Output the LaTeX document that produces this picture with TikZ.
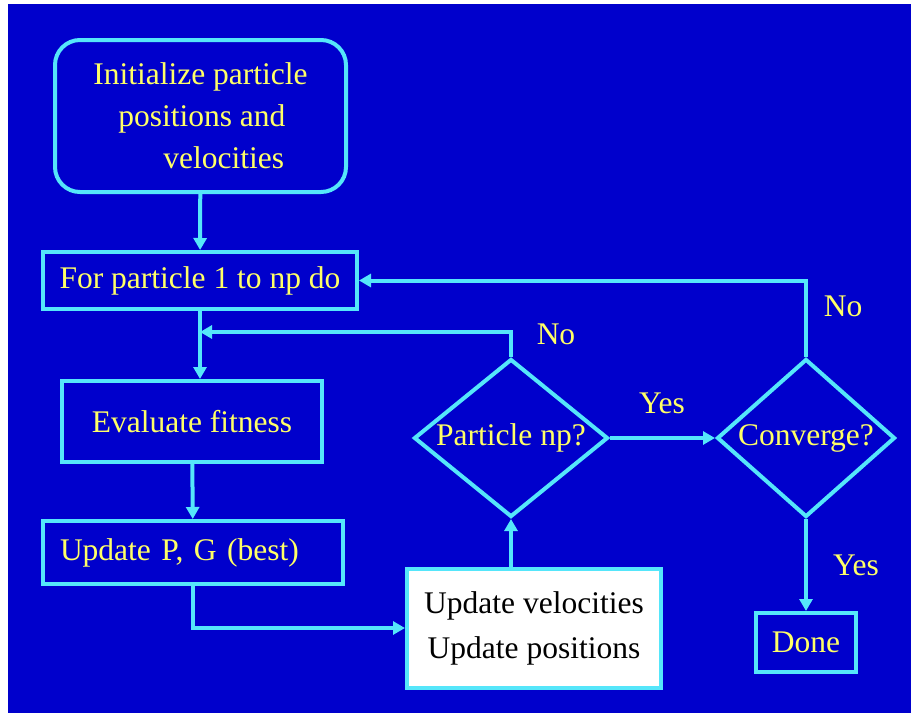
\documentclass[tikz,border=0pt]{standalone}
\usepackage{fontspec}
\setmainfont{Liberation Serif}
\newfontfamily\psofont{Liberation Serif}
\usetikzlibrary{arrows.meta,positioning,shapes.geometric}
\definecolor{psoblue}{HTML}{0000CC}
\definecolor{psocyan}{HTML}{55E6FA}
\definecolor{psoyellow}{HTML}{FFFF66}

\begin{document}
\begin{tikzpicture}[
        x=1pt, y=-1pt,
        box/.style={
          draw=psocyan,
          fill=psoblue,
          line width=4pt,
          align=center,
          text=psoyellow,
          font=\psofont\fontsize{31.5}{42}\selectfont,
          inner sep=0pt
        },
        decision/.style={
          box,
          diamond,
          aspect=1.23,
          minimum width=194pt,
          minimum height=158pt
        },
        lbl/.style={
          text=psoyellow,
          font=\psofont\fontsize{31.5}{42}\selectfont,
          inner sep=0pt
        },
        arrow/.style={
          -{Triangle[length=12pt,width=13pt]},
          line width=4pt,
          psocyan
        }
      ]

      % background with the thin white margin
      \fill[white] (0,0) rectangle (911,713);
      \fill[psoblue] (8,4) rectangle (911,713);

      \node[box, rounded corners=25pt, minimum width=291pt, minimum height=152pt, align=left]
        (init) at (200.5,116) {Initialize particle\\\hspace*{25pt}positions and\\\hspace*{70pt}velocities};
      \node[box, minimum width=314pt, minimum height=57pt] (loop) at (200,280.5) {For particle 1 to np do};
      \node[box, minimum width=260pt, minimum height=81pt] (fitness) at (192,421.5) {Evaluate fitness};
      \node[box, minimum height=63pt, text width=266pt, inner xsep=17pt, align=left] (best) at (193,552.5) {Update P, G (best)};
      \node[box, fill=white, text=black, minimum width=254pt, minimum height=119pt,
        font=\psofont\fontsize{31.5}{45}\selectfont] (move) at (534,628) {Update velocities\\Update positions};
      \node[decision] (last) at (511,438) {Particle np?};
      \node[decision, aspect=1.13, minimum width=178pt] (conv) at (806,438) {Converge?};
      \node[box, minimum width=100pt, minimum height=59pt] (done) at (806,642.5) {Done};

      \coordinate (join) at (200,332);

      \node[lbl] (no1) at (556,334) {No};
      \node[lbl] (yes1) at (662,403) {Yes};
      \node[lbl] (no2) at (843,306) {No};
      \node[lbl] (yes2) at (856,565) {Yes};

      \draw[arrow] (init) -- (loop);
      \draw[arrow] (loop.south) -- (loop.south |- fitness.north);
      \draw[arrow] (last.north) |- (join);
      \draw[arrow] (fitness) -- (best);
      \draw[arrow] (best.south) |- (move.west);
      \draw[arrow] (last.south |- move.north) -- (last.south);
      \draw[arrow] (last.east) -- (conv.west);
      \draw[arrow] (conv.north) |- (loop.east);
      \draw[arrow] (conv.south) -- (done.north);

      \end{tikzpicture}
\end{document}
